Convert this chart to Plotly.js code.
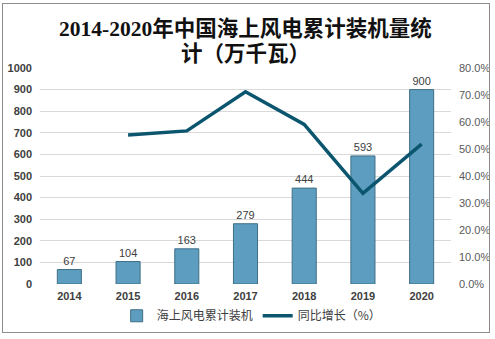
<!DOCTYPE html>
<html><head><meta charset="utf-8">
<script src="https://cdn.plot.ly/plotly-3.0.1.min.js"></script>
<style>
html,body{margin:0;padding:0;background:#fff;}
#chart{position:absolute;left:2px;top:3px;width:488px;height:330px;border:1px solid #8c8c8c;box-sizing:border-box;}
</style></head>
<body><div id="chart"></div>
<script>
const years = ['2014','2015','2016','2017','2018','2019','2020'];
const capacity = [67,104,163,279,444,593,900];
const growth = [null,55.2,56.7,71.2,59.1,33.6,51.8];
const leftTicks = [0,100,200,300,400,500,600,700,800,900,1000];
const rightTicks = [0,10,20,30,40,50,60,70,80];
const rightTickText = rightTicks.map(v => v.toFixed(1) + '%');
const titleLines = ['2014-2020年中国海上风电累计装机量统', '计（万千瓦）'];

const titleFont = {family:'Liberation Serif, Noto Sans CJK SC', size:21.5, color:'#111', weight:'bold'};
const traces = [
  {type:'bar', x:years, y:capacity, name:'海上风电累计装机',
   marker:{color:'#5d9dbf', line:{color:'#3e6f87', width:1}},
   text:capacity.map(String), textposition:'outside', cliponaxis:false,
   textfont:{family:'Liberation Sans, Noto Sans CJK SC', size:11, color:'#404040'},
   hoverinfo:'none'},
  {type:'scatter', mode:'lines', x:years, y:growth, yaxis:'y2', name:'同比增长（%）',
   line:{color:'#0b566e', width:3.5}, connectgaps:false, hoverinfo:'none'}
];
const layout = {
  width:486, height:328,
  margin:{l:37, r:38, t:64, b:48, autoexpand:false},
  paper_bgcolor:'#fff', plot_bgcolor:'#fff',
  annotations:[
    {text:titleLines[0], xref:'paper', yref:'paper', x:0.5, y:1, xanchor:'center', yanchor:'middle', yshift:40, showarrow:false, font:titleFont},
    {text:titleLines[1], xref:'paper', yref:'paper', x:0.5, y:1, xanchor:'center', yanchor:'middle', yshift:14, showarrow:false, font:titleFont}
  ],
  bargap:0.59,
  xaxis:{type:'category', tickfont:{family:'Liberation Sans, Noto Sans CJK SC', size:11, color:'#404040', weight:'bold'},
    showline:false, ticks:'', showgrid:false, zeroline:false, ticklabelstandoff:4},
  yaxis:{range:[0,1000], tickvals:leftTicks, ticktext:leftTicks.map(String),
    tickfont:{family:'Liberation Sans', size:11, color:'#404040', weight:'bold'},
    gridcolor:'#d9d9d9', gridwidth:1, zeroline:false, showline:false, ticks:'', ticklabelstandoff:7},
  yaxis2:{overlaying:'y', side:'right', range:[0,80], tickvals:rightTicks, ticktext:rightTickText,
    tickfont:{family:'Liberation Sans', size:11, color:'#595959'}, showgrid:false, zeroline:false, showline:false, ticks:'', ticklabelstandoff:7},
  legend:{orientation:'h', x:0.515, xanchor:'center', y:-0.08, yanchor:'top',
    font:{family:'Noto Sans CJK SC', size:12, color:'#404040'}, tracegroupgap:0},
  showlegend:true
};
Plotly.newPlot('chart', traces, layout, {staticPlot:true, displayModeBar:false});
</script></body></html>
